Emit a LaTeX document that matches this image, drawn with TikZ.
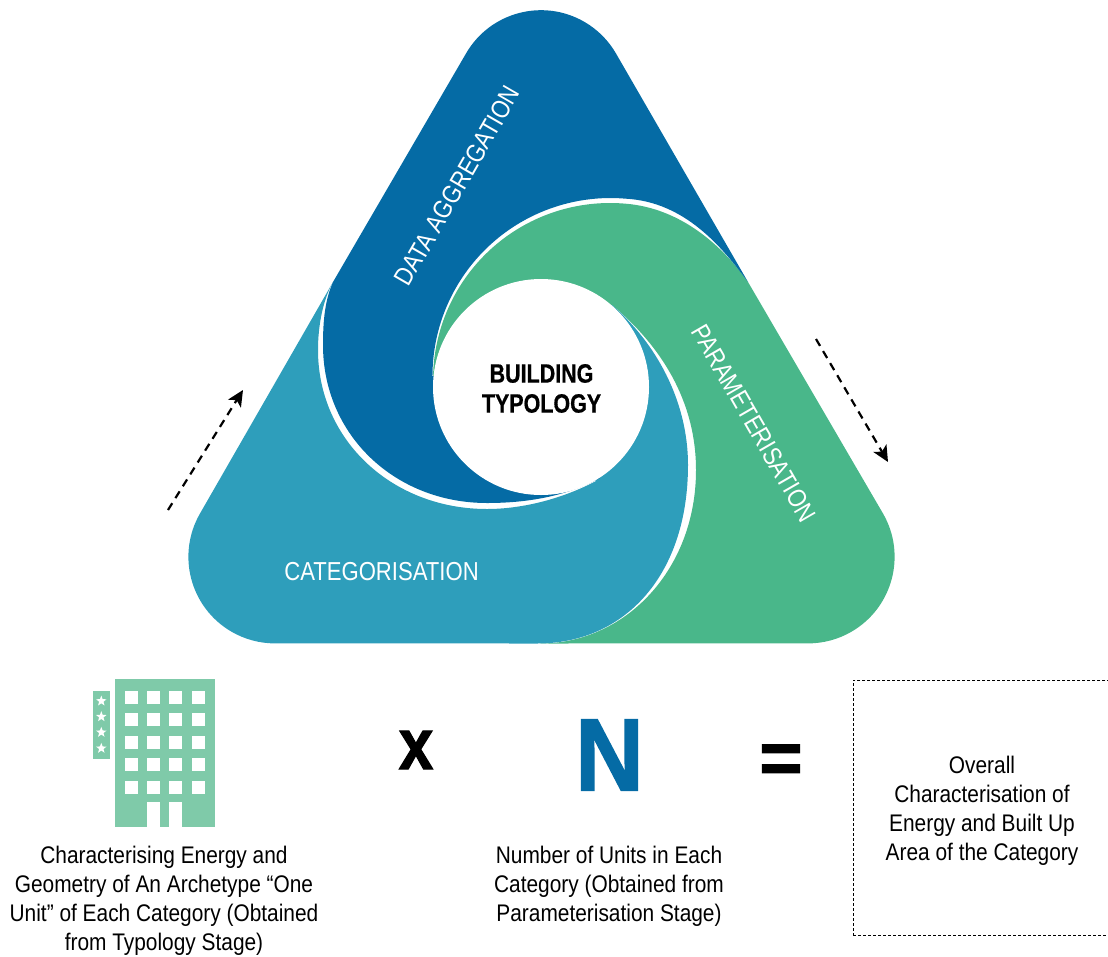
\documentclass[tikz,border=0pt]{standalone}
\usepackage{fontspec}
\setmainfont{Liberation Sans}
\newfontfamily\bandfont[FakeStretch=0.85]{Liberation Sans}
\newfontfamily\bodyfont[FakeStretch=0.87]{Liberation Sans}
\newfontfamily\hubfont[FakeStretch=0.81,FakeBold=0.6]{Liberation Sans Bold}
\newfontfamily\heavyfont[FakeStretch=0.86,FakeBold=1.5]{Liberation Sans Bold}
\newfontfamily\nfont[FakeStretch=0.92,FakeBold=1.5]{Liberation Sans Bold}
\newfontfamily\eqfont[FakeBold=1.5]{Liberation Sans Bold}
\usetikzlibrary{shapes.geometric,arrows.meta}
\definecolor{swirlblue}{HTML}{056BA5}
\definecolor{swirlgreen}{HTML}{49B78A}
\definecolor{swirlcyan}{HTML}{2E9EBB}
\definecolor{iconline}{HTML}{7FCAA9}
\tikzset{
  band/.style={white,font=\bandfont\fontsize{26}{30}\selectfont,inner sep=0pt},
  body/.style={black,align=center,inner sep=0pt,font=\bodyfont\fontsize{24}{29}\selectfont},
  flow/.style={black,line width=2.2pt,dash pattern=on 8pt off 6pt,-{Stealth[length=16pt,width=15pt,inset=4pt]}},
  wind/.style={fill=white,draw=none},
}
\begin{document}
\begin{tikzpicture}[x=1pt,y=-1pt]
\useasboundingbox (0,0) rectangle (1108,956);
% green swirl
\fill[swirlgreen] (433,380) arc[start angle=180,end angle=275,radius=177]
  .. controls (680,208) and (722,245) .. (748,282)
  -- (883,513.5) arc[start angle=-30,end angle=90,radius=86.6] -- (540,643.5)
  .. controls (625,643.5) and (696,570) .. (696,470)
  .. controls (696,400) and (660,345) .. (612,305)
  -- (541,387) -- cycle;
% cyan swirl
\fill[swirlcyan] (333,282) -- (200,513.5) arc[start angle=210,end angle=90,radius=86.6] -- (537,643.5)
  .. controls (625,643.5) and (688,575) .. (688,465)
  .. controls (688,400) and (655,342) .. (612,305)
  -- (541,387) -- (596,481)
  .. controls (560,500) and (520,509) .. (487,509)
  .. controls (392,509) and (318,440) .. (318,350)
  .. controls (318,325) and (323,300) .. (333,282) -- cycle;
% blue swirl
\fill[swirlblue] (333,282) -- (466,53.5) arc[start angle=210,end angle=330,radius=86.6] -- (748,282)
  .. controls (722,247) and (685,202) .. (626,198.7)
  arc[start angle=275,end angle=180,radius=178]
  -- (541,387) -- (600,478)
  .. controls (565,497) and (525,503) .. (487,503)
  .. controls (395,503) and (323,435) .. (323,345)
  .. controls (323,320) and (325,300) .. (333,282) -- cycle;
% hub
\node[circle,fill=white,minimum size=216pt,inner sep=0pt] (hub) at (541,387) {};
\node[inner sep=0pt,align=center,font=\hubfont\fontsize{26.5}{30}\selectfont] (hubtext) at (541.5,388.5) {BUILDING\\TYPOLOGY};
% band labels
\node[band,rotate=60] (data) at (457,186) {DATA AGGREGATION};
\node[band,rotate=-60] (param) at (754,423) {PARAMETERISATION};
\node[band] (cat) at (381.5,572) {CATEGORISATION};
% flow arrows
\coordinate (la) at (168,510);
\coordinate (lb) at (243,390);
\coordinate (ra) at (816,339);
\coordinate (rb) at (888,462);
\draw[flow] (la) -- (lb);
\draw[flow] (ra) -- (rb);
% building icon
\fill[iconline] (114.7,679.3) rectangle (215.3,827.3);
\fill[iconline] (93,691) rectangle (109.7,758.7);
\foreach \cx in {125,147.3,169.3,191.7}
  \foreach \ry in {691,713.3,736,758.3,781}
    \fill[wind] (\cx,\ry) rectangle ++(13,13);
\fill[wind] (147.3,802.3) rectangle (160.3,827.5);
\fill[wind] (169.3,802.3) rectangle (182.3,827.5);
\foreach \sy [count=\i] in {701,716.7,732.3,748.3}
  \node[star,star points=5,star point ratio=2.4,fill=white,inner sep=0pt,minimum size=11pt] (s\i) at (101.3,\sy) {};
% formula symbols
\node[inner sep=0pt,font=\heavyfont\fontsize{72}{72}\selectfont] (times) at (416,750) {x};
\node[inner sep=0pt,text=swirlblue,font=\nfont\fontsize{103}{103}\selectfont] (nn) at (609.5,755) {N};
\node[inner sep=0pt,font=\eqfont\fontsize{74}{74}\selectfont] (eq) at (781,764) {=};
% captions
\node[body] (capa) at (164,900.5) {Characterising Energy and\\Geometry of An Archetype “One\\Unit” of Each Category (Obtained\\from Typology Stage)};
\node[body] (capb) at (609,886) {Number of Units in Each\\Category (Obtained from\\Parameterisation Stage)};
\node[draw=black,line width=0.8pt,dash pattern=on 3pt off 2pt,minimum width=256pt,minimum height=255pt,inner sep=0pt,anchor=north west] (result) at (853,680) {};
\node[body] (capc) at (982,810.5) {Overall\\Characterisation of\\Energy and Built Up\\Area of the Category};
\end{tikzpicture}
\end{document}
